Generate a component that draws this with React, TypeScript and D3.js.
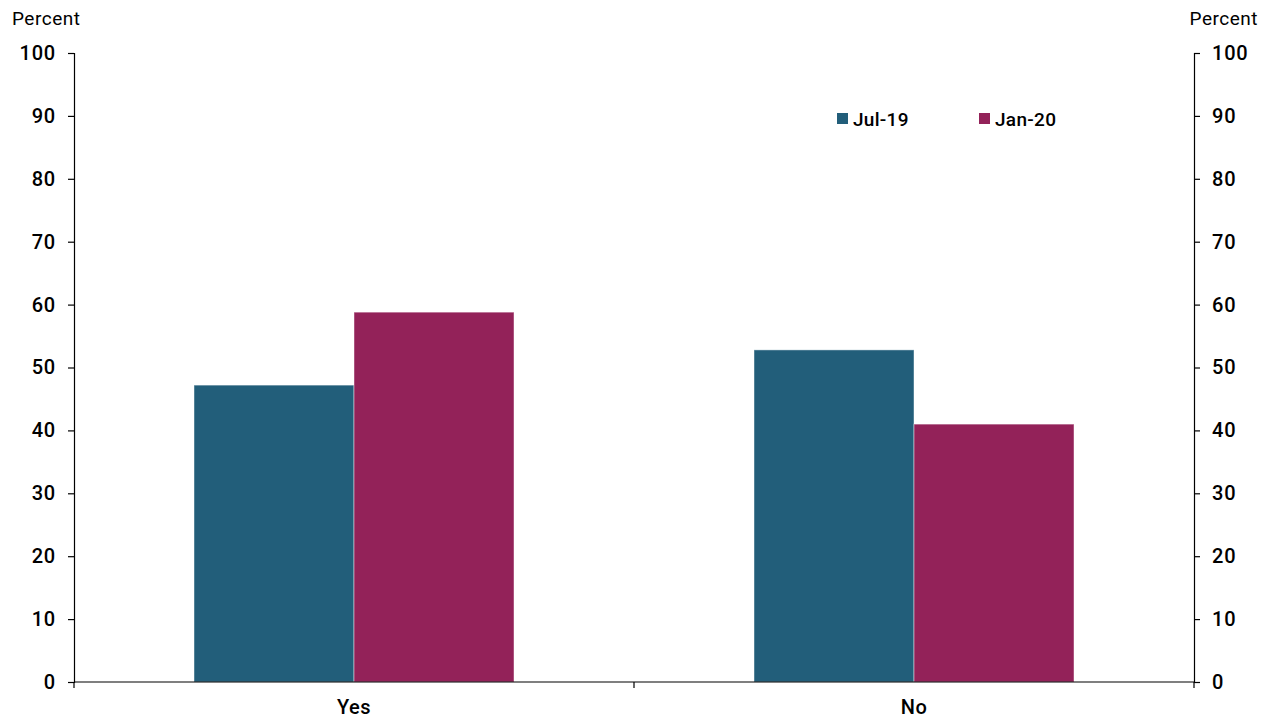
import React, { useEffect, useRef } from 'react';
import * as d3 from 'd3';

const categories = ['Yes', 'No'];
const seriesNames = ['Jul-19', 'Jan-20'];
const jul19 = [47.2, 52.8];
const jan20 = [58.8, 41.0];
const yTicks = [0, 10, 20, 30, 40, 50, 60, 70, 80, 90, 100];
const colors = ['#225e7a', '#932259'];

const App = () => {
  const ref = useRef<SVGSVGElement>(null);

  useEffect(() => {
    const width = 1268;
    const height = 719;
    const left = 74;
    const right = 1194;
    const top = 53;
    const bottom = 682;
    const font = 'Roboto, "Liberation Sans", Arial, sans-serif';

    const svg = d3.select(ref.current);
    svg.selectAll('*').remove();
    svg.attr('width', width).attr('height', height);

    const x0 = d3.scaleBand().domain(categories).range([left, right]).padding(0);
    const x1 = d3
      .scaleBand()
      .domain(seriesNames)
      .range([0, x0.bandwidth()])
      .paddingInner(0)
      .paddingOuter(0.75);
    const y = d3.scaleLinear().domain([0, 100]).range([bottom, top]);

    const values = [jul19, jan20];
    const rows = categories.flatMap((c, i) =>
      seriesNames.map((s, j) => ({ cat: c, series: s, value: values[j][i], color: colors[j] }))
    );

    // bars
    svg
      .append('g')
      .selectAll('rect')
      .data(rows)
      .enter()
      .append('rect')
      .attr('x', d => (x0(d.cat) as number) + (x1(d.series) as number))
      .attr('y', d => y(d.value))
      .attr('width', x1.bandwidth())
      .attr('height', d => bottom - y(d.value))
      .attr('fill', d => d.color)
      .attr('stroke', 'rgba(255,255,255,0.45)')
      .attr('stroke-width', 1);

    // axes
    const tickFont = (g: any) =>
      g
        .call((s: any) => s.select('.domain').attr('stroke', '#000').attr('stroke-width', 1.2))
        .call((s: any) => s.selectAll('.tick line').attr('stroke', '#000').attr('stroke-width', 1.2))
        .call((s: any) =>
          s
            .selectAll('.tick text')
            .attr('fill', '#000')
            .style('font-family', font)
            .style('font-size', '20px')
            .style('font-weight', '500')
            .style('letter-spacing', '0.8px')
        );

    svg
      .append('g')
      .attr('transform', `translate(${left},0)`)
      .call(d3.axisLeft(y).tickValues(yTicks).tickSize(6).tickPadding(12).tickSizeOuter(6))
      .call(tickFont);

    svg
      .append('g')
      .attr('transform', `translate(${right},0)`)
      .call(d3.axisRight(y).tickValues(yTicks).tickSize(6).tickPadding(12).tickSizeOuter(6))
      .call(tickFont);

    const xb = svg.append('g').attr('transform', `translate(0,${bottom})`);
    xb.append('line')
      .attr('x1', left)
      .attr('x2', right)
      .attr('stroke', '#000')
      .attr('stroke-width', 1.2);
    xb.selectAll('line.tk')
      .data([left, left + x0.bandwidth(), right])
      .enter()
      .append('line')
      .attr('class', 'tk')
      .attr('x1', d => d)
      .attr('x2', d => d)
      .attr('y1', 0)
      .attr('y2', 6)
      .attr('stroke', '#000')
      .attr('stroke-width', 1.2);
    xb.selectAll('text')
      .data(categories)
      .enter()
      .append('text')
      .attr('x', d => (x0(d) as number) + x0.bandwidth() / 2)
      .attr('y', 32)
      .attr('text-anchor', 'middle')
      .style('font-family', font)
      .style('font-size', '20px')
      .style('font-weight', '500')
      .style('letter-spacing', '0.5px')
      .text(d => d);

    // unit labels
    svg
      .append('text')
      .attr('x', 12)
      .attr('y', 25)
      .style('font-family', font)
      .style('font-size', '19px')
      .style('letter-spacing', '0.5px')
      .text('Percent');
    svg
      .append('text')
      .attr('x', 1258)
      .attr('y', 25)
      .attr('text-anchor', 'end')
      .style('font-family', font)
      .style('font-size', '19px')
      .style('letter-spacing', '0.5px')
      .text('Percent');

    // legend
    const legendX = [837, 979];
    const legend = svg
      .append('g')
      .selectAll('g')
      .data(seriesNames)
      .enter()
      .append('g')
      .attr('transform', (d, i) => `translate(${legendX[i]},113)`);
    legend
      .append('rect')
      .attr('width', 11)
      .attr('height', 11)
      .attr('fill', (d, i) => colors[i]);
    legend
      .append('text')
      .attr('x', 16)
      .attr('y', 13)
      .style('font-family', font)
      .style('font-size', '19px')
      .style('font-weight', '500')
      .style('letter-spacing', '0.3px')
      .text(d => d);
  }, []);

  return <svg ref={ref} style={{ display: 'block', position: 'absolute', left: 0, top: 0 }}></svg>;
};

export default App;
